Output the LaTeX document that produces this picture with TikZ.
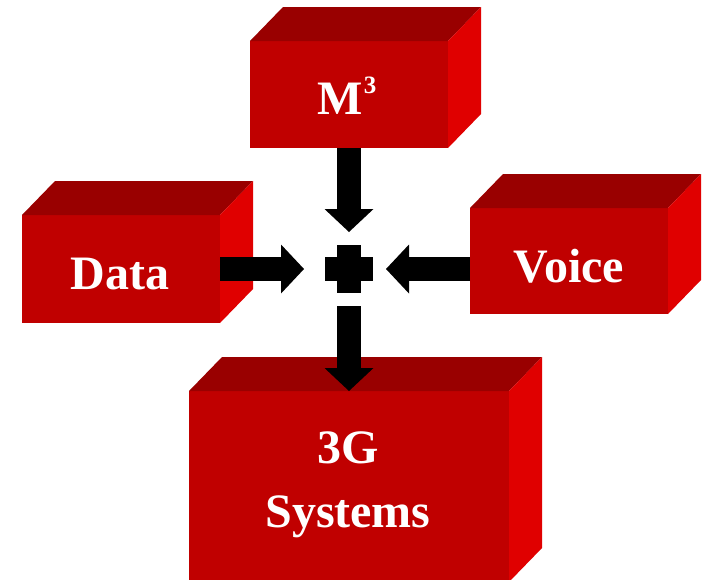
\documentclass[tikz,border=0pt]{standalone}
\usepackage{fontspec}
\setmainfont{Liberation Serif}
\usetikzlibrary{arrows.meta,calc}
\definecolor{facefront}{RGB}{192,0,0}
\definecolor{facetop}{RGB}{153,0,0}
\definecolor{faceside}{RGB}{224,0,0}
% top and right faces of a block whose front face is node #1
\newcommand\blockfaces[1]{%
  \fill[facetop] (#1.north west) -- ++(33,-34) -- ($(#1.north east)+(33,-34)$) -- (#1.north east) -- cycle;
  \fill[faceside] (#1.north east) -- ++(33,-34) -- ($(#1.south east)+(33,-34)$) -- (#1.south east) -- cycle;
}
\begin{document}
\begin{tikzpicture}[x=1pt,y=-1pt,
  front/.style={fill=facefront, inner sep=0pt, outer sep=0pt},
  lbl/.style={text=white, font=\bfseries\fontsize{48}{64}\selectfont, anchor=base, inner sep=0pt, align=center},
  flow/.style={line width=24pt, draw=black, -{Triangle[width=49pt,length=23pt,line width=0pt]}},
]
\useasboundingbox (0,0) rectangle (702,579);

% front faces
\node[front, minimum width=198pt, minimum height=107pt] (m3)    at (349,94.5) {};
\node[front, minimum width=198pt, minimum height=108pt] (data)  at (121,269) {};
\node[front, minimum width=198pt, minimum height=106pt] (voice) at (569,261) {};
\node[front, minimum width=320pt, minimum height=191pt] (sys)   at (349,486.5) {};
\blockfaces{m3}
\blockfaces{data}
\blockfaces{voice}
\blockfaces{sys}

% labels
\node[lbl] (m3txt)    at (347,114) {M\kern1pt\raisebox{21pt}{\fontsize{25}{25}\selectfont 3}};
\node[lbl] (datatxt)  at (120,289) {Data};
\node[lbl] (voicetxt) at (569,282) {Voice};
\node[lbl] (systxt)   at (348,527) {3G\\Systems};

% central plus sign
\node[minimum size=48pt, inner sep=0pt, outer sep=0pt] (plus) at (349,269) {};
\fill ($(plus.center)+(-24,-12)$) rectangle ($(plus.center)+(24,12)$);
\fill ($(plus.center)+(-12,-24)$) rectangle ($(plus.center)+(12,24)$);

% flows
\draw[flow, shorten >=13pt] (m3.south) -- (plus.north);
\draw[flow, shorten >=21pt] (data.east) -- (plus.west);
\draw[flow, shorten >=13pt] (voice.west |- plus.east) -- (plus.east);
\draw[flow, shorten <=13pt] (plus.south) -- (sys.north);
\end{tikzpicture}
\end{document}
